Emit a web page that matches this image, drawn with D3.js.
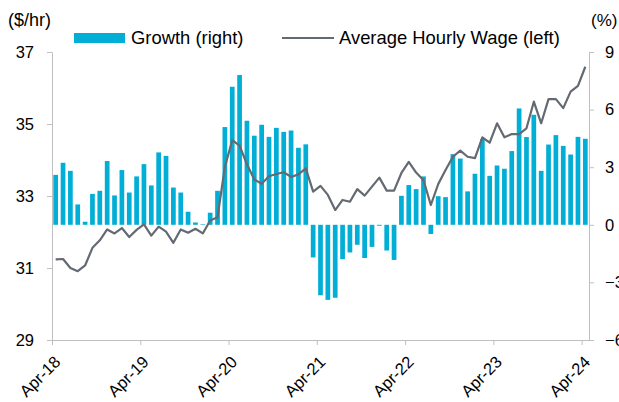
<!DOCTYPE html>
<meta charset="utf-8">
<script src="https://d3js.org/d3.v7.min.js"></script>
<body>
<div id="chart"></div>
<style>
  body { margin: 0; background: #fff; }
  text { font-family: "Liberation Sans", Arial, sans-serif; fill: #000; }
</style>
<script>
// monthly growth (%, right axis), Apr-18 .. Apr-24
var growth = [2.60, 3.23, 2.81, 1.06, 0.16, 1.61, 1.77, 3.32, 1.53, 2.85, 1.68, 2.52,
  3.16, 2.05, 3.77, 3.59, 1.94, 1.68, 0.68, 0.12, 0.03, 0.63, 1.77, 5.09,
  7.19, 7.80, 5.42, 4.64, 5.21, 4.58, 5.05, 4.84, 4.91, 4.01, 4.19, -1.70,
  -3.67, -3.91, -3.80, -1.79, -1.44, -1.04, -1.73, -1.15, -0.05, -1.34, -1.83, 1.51,
  2.07, 1.86, 2.52, -0.48, 1.49, 1.44, 3.68, 3.45, 1.74, 2.66, 4.46, 2.55,
  3.09, 2.92, 3.84, 6.06, 4.57, 5.73, 2.81, 4.18, 4.67, 4.11, 3.66, 4.58,
  4.48];

// average hourly wage ($/hr, left axis)
var wage = [31.24, 31.25, 31.00, 30.91, 31.07, 31.56, 31.77, 32.07, 31.96, 32.11, 31.86, 32.06,
  32.21, 31.90, 32.15, 32.01, 31.70, 32.07, 31.98, 32.09, 31.96, 32.32, 32.41, 33.81,
  34.55, 34.40, 33.88, 33.46, 33.34, 33.55, 33.61, 33.66, 33.53, 33.60, 33.77, 33.12,
  33.28, 33.03, 32.61, 32.89, 32.84, 33.19, 33.01, 33.26, 33.51, 33.15, 33.15, 33.64,
  33.95, 33.65, 33.44, 32.75, 33.33, 33.72, 34.09, 34.26, 34.09, 34.05, 34.63, 34.48,
  35.02, 34.63, 34.72, 34.72, 34.88, 35.62, 35.02, 35.69, 35.69, 35.44, 35.90, 36.06,
  36.59];

var tickLabels = ["Apr-18", "Apr-19", "Apr-20", "Apr-21", "Apr-22", "Apr-23", "Apr-24"];
var leftTicks = [29, 31, 33, 35, 37];
var rightTicks = [-6, -3, 0, 3, 6, 9];

var months = d3.range(growth.length);

var W = 619, H = 402;
var plot = {left: 52, right: 589, top: 52, bottom: 340};
var axisColor = "#bfbfbf";

var svg = d3.select("#chart").append("svg")
  .attr("width", W).attr("height", H);

var x = d3.scaleBand()
  .domain(months)
  .range([plot.left, plot.right])
  .paddingInner(0.36)
  .paddingOuter(0.18);

// month boundaries, for the date ticks
var xt = d3.scaleLinear().domain([0, months.length]).range([plot.left, plot.right]);

var yL = d3.scaleLinear().domain([29, 37]).range([plot.bottom, plot.top]);
var yR = d3.scaleLinear().domain([-6, 9]).range([plot.bottom, plot.top]);

// bars
svg.append("g").selectAll("rect")
  .data(growth)
  .enter().append("rect")
    .attr("x", function(d, i) { return x(i); })
    .attr("width", x.bandwidth())
    .attr("y", function(d) { return yR(Math.max(0, d)); })
    .attr("height", function(d) { return Math.abs(yR(d) - yR(0)); })
    .attr("fill", "#00aed6");

// line
var line = d3.line()
  .x(function(d, i) { return x(i) + x.bandwidth() / 2; })
  .y(function(d) { return yL(d); });

svg.append("path")
  .datum(wage)
  .attr("d", line)
  .attr("fill", "none")
  .attr("stroke", "#646a72")
  .attr("stroke-width", 2.2)
  .attr("stroke-linejoin", "round");

// left axis
var gL = svg.append("g")
  .attr("transform", "translate(" + plot.left + ",0)")
  .call(d3.axisLeft(yL).tickValues(leftTicks).tickSize(5).tickPadding(13).tickSizeOuter(0));

// right axis
var gR = svg.append("g")
  .attr("transform", "translate(" + plot.right + ",0)")
  .call(d3.axisRight(yR).tickValues(rightTicks).tickSize(5).tickPadding(11).tickSizeOuter(0));

// bottom axis
var gB = svg.append("g")
  .attr("transform", "translate(0," + plot.bottom + ")")
  .call(d3.axisBottom(xt)
    .tickValues(d3.range(0, months.length, 12))
    .tickFormat(function(d, i) { return tickLabels[i]; })
    .tickSize(5).tickSizeOuter(0));

[gL, gR, gB].forEach(function(g) {
  g.select(".domain").attr("stroke", axisColor);
  g.selectAll(".tick line").attr("stroke", axisColor);
  g.selectAll("text").style("font-size", "16.5px").attr("fill", "#000");
});

gB.selectAll("text")
  .attr("text-anchor", "end")
  .attr("transform", "translate(5,19) rotate(-45)")
  .attr("dy", "0.35em")
  .attr("y", 0);

// unit labels
svg.append("text").attr("x", 8).attr("y", 26).text("($/hr)").style("font-size", "18px");
svg.append("text").attr("x", 591).attr("y", 26).text("(%)").style("font-size", "17px");

// legend
svg.append("rect").attr("x", 74).attr("y", 33).attr("width", 51).attr("height", 10).attr("fill", "#00aed6");
svg.append("text").attr("x", 131).attr("y", 44).text("Growth (right)").style("font-size", "18.4px");
svg.append("line").attr("x1", 282).attr("x2", 334).attr("y1", 38).attr("y2", 38)
  .attr("stroke", "#646a72").attr("stroke-width", 2.2);
svg.append("text").attr("x", 339).attr("y", 44).text("Average Hourly Wage (left)").style("font-size", "18.4px");
</script>
</body>
